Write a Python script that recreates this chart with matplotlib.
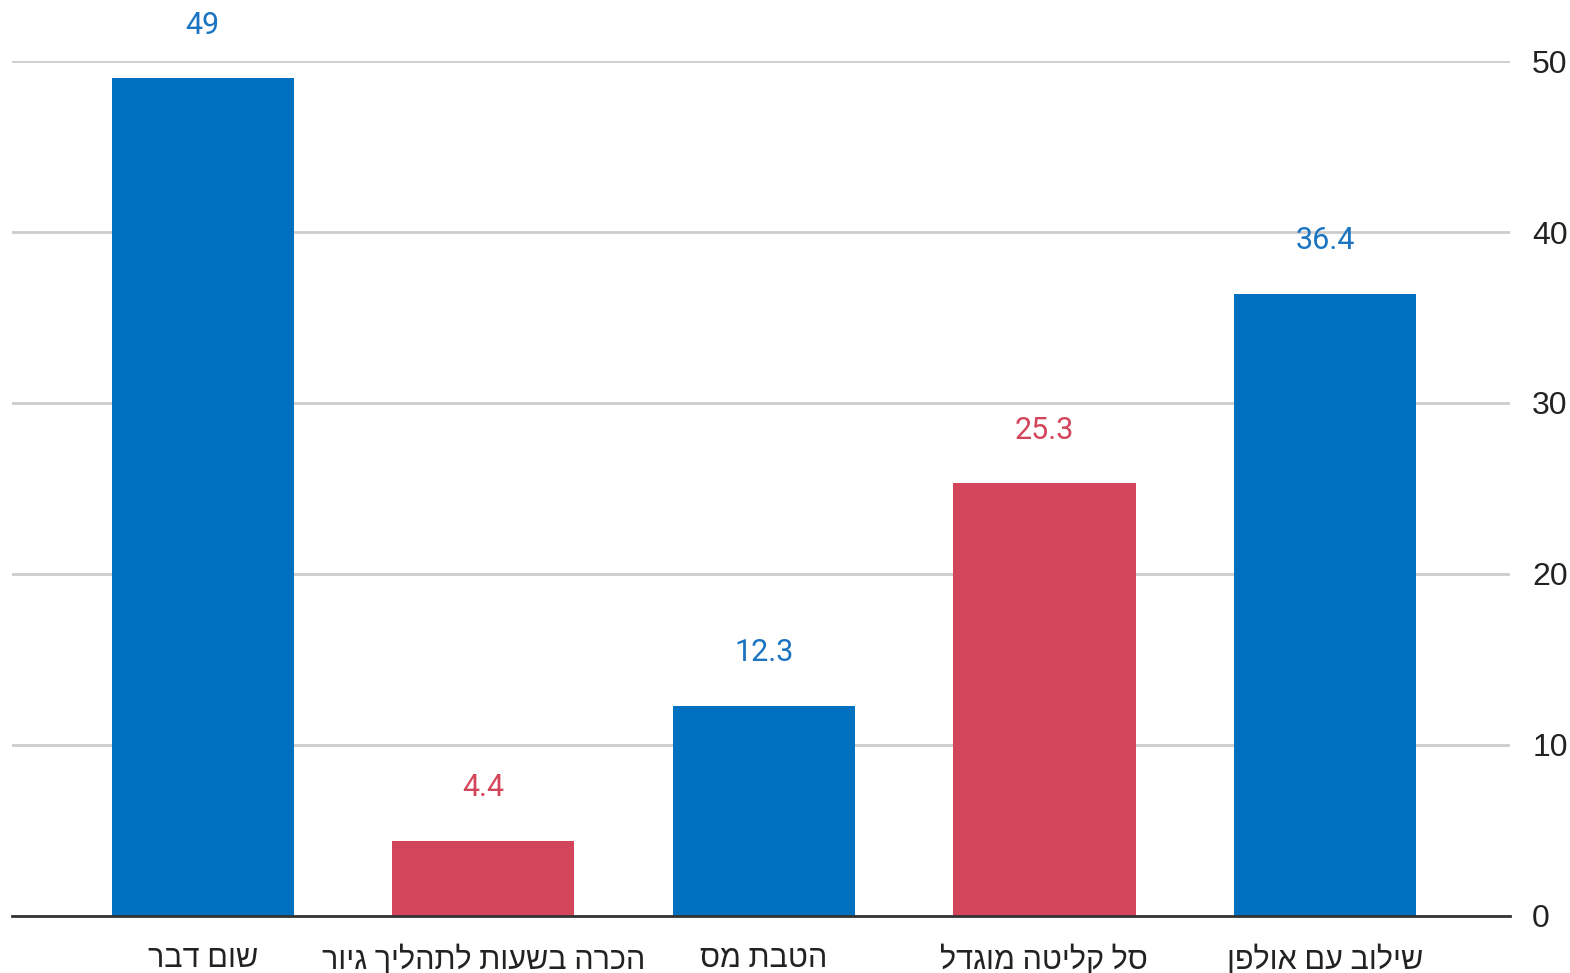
import matplotlib
matplotlib.use("Agg")
import matplotlib.pyplot as plt

# Data (left to right as drawn)
categories = ["שום דבר", "הכרה בשעות לתהליך גיור", "הטבת מס", "סל קליטה מוגדל", "שילוב עם אולפן"]
values = [49, 4.4, 12.3, 25.3, 36.4]
bar_colors = ["#0070C0", "#D3455B", "#0070C0", "#D3455B", "#0070C0"]
label_colors = ["#1A74C2", "#D3455B", "#1A74C2", "#D3455B", "#1A74C2"]
y_ticks = [0, 10, 20, 30, 40, 50]

plt.rcParams["font.family"] = ["Roboto", "Liberation Sans", "DejaVu Sans"]


def visual(s):
    # matplotlib has no bidi support, so flip Hebrew for display
    return s[::-1]


fig = plt.figure(figsize=(15.7, 9.73), dpi=100)
ax = fig.add_axes([0.0076, 0.0586, 0.9542, 0.8787])

x = list(range(len(categories)))
ax.bar(x, values, width=0.65, color=bar_colors, zorder=3)

for xi, v, c in zip(x, values, label_colors):
    ax.annotate(f"{v:g}", (xi, v), xytext=(0, 38), textcoords="offset points",
                ha="center", va="center", fontsize=22, color=c)

ax.set_xlim(-0.68, 4.66)
ax.set_ylim(0, 50)
ax.set_yticks(y_ticks)
ax.yaxis.tick_right()
ax.tick_params(axis="y", length=0, pad=16, labelcolor="#222222")
for lbl in ax.get_yticklabels():
    lbl.set_family(["Liberation Sans", "DejaVu Sans"])
    lbl.set_fontsize(23)
ax.set_xticks(x)
ax.set_xticklabels([visual(c) for c in categories], fontsize=22, color="#222222")
ax.tick_params(axis="x", length=0, pad=20)

ax.grid(axis="y", color="#cccccc", linewidth=2, zorder=0)
for side in ["top", "left", "right"]:
    ax.spines[side].set_visible(False)
ax.spines["bottom"].set_color("#333333")
ax.spines["bottom"].set_linewidth(2)
ax.spines["bottom"].set_zorder(4)

fig.savefig("out.png", dpi=100)
